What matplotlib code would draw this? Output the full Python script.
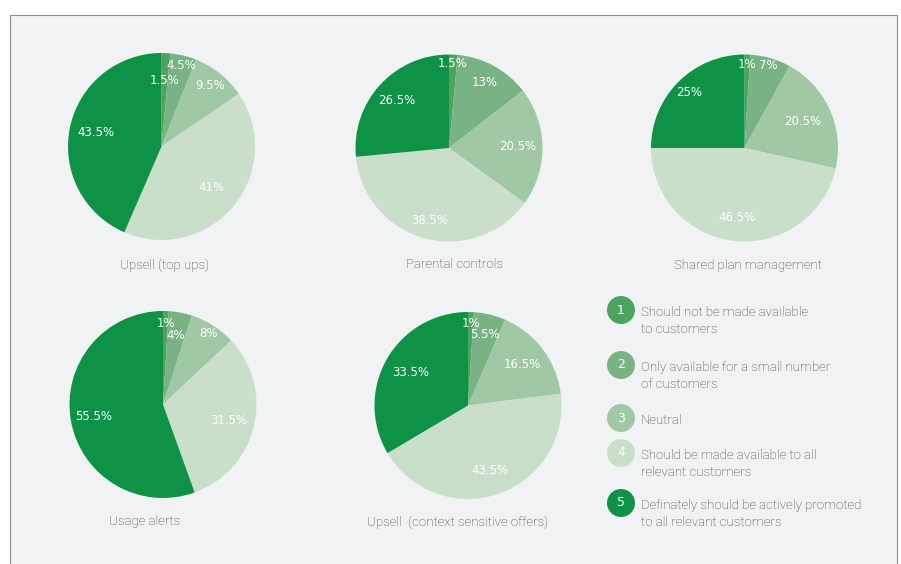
import numpy as np
import matplotlib.pyplot as plt
from matplotlib.patches import Circle, Rectangle

W, H = 901, 564

# response scale 1..5
answers = ["1", "2", "3", "4", "5"]
answer_text = [
    "Should not be made available\nto customers",
    "Only available for a small number\nof customers",
    "Neutral",
    "Should be made available to all\nrelevant customers",
    "Definately should be actively promoted\nto all relevant customers",
]
colours = ["#4ca45e", "#79b283", "#a1c8a5", "#c9dfc9", "#0e9245"]

# share of answers per feature, in %
upsell_topups = [1.5, 4.5, 9.5, 41, 43.5]
parental = [1.5, 13, 20.5, 38.5, 26.5]
shared_plan = [1, 7, 20.5, 46.5, 25]
usage_alerts = [1, 4, 8, 31.5, 55.5]
upsell_context = [1, 5.5, 16.5, 43.5, 33.5]

titles = ["Upsell (top ups)", "Parental controls", "Shared plan management",
          "Usage alerts", "Upsell  (context sensitive offers)"]

# layout: pie centre (px from top-left), label radius per slice
pies = [
    (upsell_topups, (161.5, 146.5), [0.71, 0.89, 0.84, 0.69, 0.72]),
    (parental, (449, 148), [0.90, 0.80, 0.73, 0.80, 0.76]),
    (shared_plan, (744.5, 148), [0.89, 0.92, 0.68, 0.75, 0.84]),
    (usage_alerts, (163, 404.5), [0.87, 0.75, 0.90, 0.72, 0.75]),
    (upsell_context, (468, 405.5), [0.88, 0.78, 0.73, 0.73, 0.71]),
]
title_xy = [(165, 265), (454, 265), (748, 265), (145, 522), (458, 522)]
R = 93.5

num_font = ["DejaVu Sans"]
txt_font = ["Roboto", "DejaVu Sans"]
txt_col = "#3a3a3a"

fig = plt.figure(figsize=(W / 100, H / 100), dpi=100)
fig.patch.set_facecolor("white")
ax = fig.add_axes([0, 0, 1, 1])

# grey panel with thin border
ax.add_patch(Rectangle((10, -5), 887, H - 15 + 5, facecolor="#f1f2f4",
                       edgecolor="#8a8a8a", linewidth=0.8, zorder=0))

for (vals, (cx, cy), rads), title, (tx, ty) in zip(pies, titles, title_xy):
    cy = H - cy
    wedges, _ = ax.pie(vals, colors=colours, startangle=90, counterclock=False,
                       center=(cx, cy), radius=R, frame=True,
                       wedgeprops=dict(linewidth=0))
    for w, v, rf in zip(wedges, vals, rads):
        ang = np.deg2rad((w.theta1 + w.theta2) / 2)
        ax.text(cx + rf * R * np.cos(ang), cy + rf * R * np.sin(ang), f"{v:g}%",
                ha="center", va="center", color="white", fontsize=8.5,
                family=num_font)
    ax.text(tx, H - ty, title, ha="center", va="center", color=txt_col,
            fontsize=9.5, family=txt_font, weight="light")

ax.set_xlim(0, W)
ax.set_ylim(0, H)
ax.set_aspect("equal")
ax.axis("off")

# legend for the answer scale
legend_y = [310, 365, 418, 453, 503]
for a, t, c, ly in zip(answers, answer_text, colours, legend_y):
    ax.add_patch(Circle((621, H - ly), 14, facecolor=c, edgecolor="none", zorder=3))
    ax.text(621, H - ly, a, ha="center", va="center", color="white",
            fontsize=9, family=num_font, zorder=4)
    ax.text(641, H - ly + 4, t, ha="left", va="top", color=txt_col,
            fontsize=9.5, family=txt_font, weight="light", linespacing=1.4)

fig.savefig("out.png", dpi=100, facecolor=fig.get_facecolor())
